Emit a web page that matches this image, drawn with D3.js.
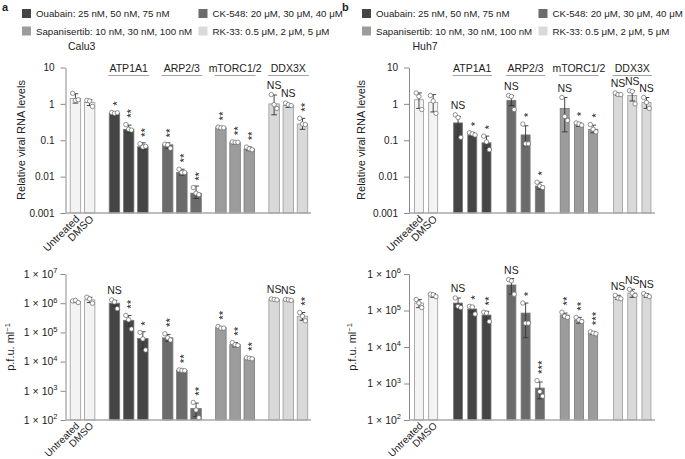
<!DOCTYPE html>
<html><head><meta charset="utf-8">
<script src="https://cdn.jsdelivr.net/npm/d3@7"></script>
<style>
body{margin:0;background:#fff}
svg text{font-family:"Liberation Sans",Arial,Helvetica,sans-serif;fill:#222}
</style>
</head><body>
<svg id="c" width="685" height="459"></svg>
<script>
// ---------------- DATA ----------------
const panelLetters = ["a", "b"];
const cellLines = ["Calu3", "Huh7"];
const legendLabels = ["Ouabain: 25 nM, 50 nM, 75 nM", "CK-548: 20 μM, 30 μM, 40 μM",
                      "Sapanisertib: 10 nM, 30 nM, 100 nM", "RK-33: 0.5 μM, 2 μM, 5 μM"];
const groups = ["ATP1A1", "ARP2/3", "mTORC1/2", "DDX3X"];
const controlLabels = ["Untreated", "DMSO"];
const rnaTitle = "Relative viral RNA levels";
const rnaTicks = [0.001, 0.01, 0.1, 1, 10];
const rnaTickLabels = ["0.001", "0.01", "0.1", "1", "10"];
const pfuTicksA = [1e2, 1e3, 1e4, 1e5, 1e6, 1e7];
const pfuExpA = ["2", "3", "4", "5", "6", "7"];
const pfuTicksB = [1e2, 1e3, 1e4, 1e5, 1e6];
const pfuExpB = ["2", "3", "4", "5", "6"];

// bars order: Untreated, DMSO, ATP1A1 x3, ARP2/3 x3, mTORC1/2 x3, DDX3X x3
// Calu3 relative viral RNA
const calu3RnaMean = [1.4, 1.1, 0.55, 0.2, 0.066, 0.075, 0.013, 0.0035, 0.22, 0.086, 0.058, 1.0, 0.9, 0.28];
const calu3RnaHi   = [1.9, 1.3, 0.6, 0.26, 0.085, 0.085, 0.016, 0.0055, 0.235, 0.092, 0.065, 1.75, 1.0, 0.4];
const calu3RnaLo   = [1.05, 0.9, 0.5, 0.16, 0.055, 0.06, 0.011, 0.0025, 0.205, 0.08, 0.052, 0.5, 0.8, 0.2];
const calu3RnaPts  = [[1.95,1.25,1.3],[1.25,1.2,0.85],[0.58,0.55,0.57],[0.27,0.2,0.19],[0.08,0.065,0.068],
                      [0.078,0.075,0.06],[0.016,0.013,0.013],[0.005,0.0035,0.0032],[0.23,0.22,0.22],
                      [0.09,0.088,0.088],[0.065,0.058,0.055],[1.8,0.95,0.75],[1.05,0.95,0.9],[0.4,0.28,0.27]];
const calu3RnaSig  = ["", "", "*", "**", "**", "**", "**", "**", "**", "**", "**", "NS", "NS", "**"];
// Calu3 p.f.u./ml
const calu3PfuMean = [1.15e6, 1.3e6, 1.0e6, 2.6e5, 6.2e4, 6.5e4, 5.0e3, 250, 1.45e5, 3.8e4, 1.3e4, 1.35e6, 1.3e6, 3.6e5];
const calu3PfuHi   = [1.25e6, 1.6e6, 1.25e6, 3.8e5, 1.05e5, 8.5e4, 5.2e3, 380, 1.55e5, 4.5e4, 1.4e4, 1.45e6, 1.4e6, 4.8e5];
const calu3PfuLo   = [1.05e6, 1.05e6, 8e5, 1.6e5, 2.8e4, 5e4, 4.8e3, 130, 1.35e5, 3.2e4, 1.2e4, 1.25e6, 1.2e6, 2.6e5];
const calu3PfuPts  = [[1.2e6,1.25e6,1.05e6],[1.6e6,1.4e6,1.0e6],[1.3e6,1.1e6,6.5e5],[3.8e5,2.7e5,1.3e5],
                      [1.0e5,6e4,2.5e4],[9e4,6.5e4,5.5e4],[5.2e3,5.0e3,4.9e3],[400,220,120],
                      [1.6e5,1.4e5,1.4e5],[4.5e4,3.8e4,3.6e4],[1.35e4,1.3e4,1.25e4],
                      [1.4e6,1.35e6,1.3e6],[1.35e6,1.3e6,1.25e6],[4.8e5,3.6e5,2.5e5]];
const calu3PfuSig  = ["", "", "NS", "**", "*", "**", "**", "**", "**", "**", "**", "NS", "NS", "**"];
// Huh7 relative viral RNA
const huh7RnaMean = [1.3, 1.1, 0.3, 0.14, 0.085, 1.25, 0.14, 0.0055, 0.75, 0.27, 0.2, 1.8, 1.7, 1.1];
const huh7RnaHi   = [2.0, 1.8, 0.45, 0.16, 0.13, 1.7, 0.25, 0.007, 1.5, 0.3, 0.26, 1.9, 2.3, 1.5];
const huh7RnaLo   = [0.75, 0.6, 0.12, 0.13, 0.06, 0.9, 0.07, 0.0045, 0.17, 0.24, 0.16, 1.7, 1.2, 0.75];
const huh7RnaPts  = [[2.0,1.6,0.7],[1.7,1.2,0.55],[0.5,0.42,0.12],[0.16,0.15,0.14],[0.13,0.09,0.055],
                     [1.7,1.6,0.7],[0.28,0.08,0.08],[0.007,0.0055,0.005],[1.5,0.45,0.35],
                     [0.3,0.28,0.26],[0.27,0.2,0.17],[2.0,1.8,1.8],[2.3,2.2,1.0],[1.5,1.1,0.75]];
const huh7RnaSig  = ["", "", "NS", "*", "*", "NS", "*", "*", "NS", "*", "*", "NS", "NS", "NS"];
// Huh7 p.f.u./ml
const huh7PfuMean = [1.6e5, 2.6e5, 1.6e5, 1.1e5, 7.5e4, 5.0e5, 8.5e4, 750, 7.5e4, 5.5e4, 2.4e4, 2.3e5, 3.0e5, 2.6e5];
const huh7PfuHi   = [2.0e5, 2.9e5, 2.2e5, 1.3e5, 9.5e4, 7.5e5, 1.6e5, 1.1e3, 8.5e4, 6.5e4, 2.6e4, 2.6e5, 3.8e5, 2.9e5];
const huh7PfuLo   = [1.2e5, 2.3e5, 1.1e5, 9e4, 5.5e4, 2.8e5, 1.8e4, 380, 6.5e4, 4.5e4, 2.2e4, 2.0e5, 2.3e5, 2.3e5];
const huh7PfuPts  = [[2.0e5,1.6e5,1.2e5],[2.8e5,2.7e5,2.4e5],[2.2e5,1.3e5,1.2e5],[1.3e5,1.25e5,8e4],
                     [9e4,8.5e4,5e4],[7e5,6.5e5,2.8e5],[1.6e5,4.5e4,4.5e4],[1.2e3,600,450],
                     [9e4,7e4,6.5e4],[6.5e4,5.5e4,5e4],[2.6e4,2.4e4,2.3e4],
                     [2.6e5,2.2e5,2.1e5],[3.8e5,3.0e5,2.6e5],[2.9e5,2.6e5,2.4e5]];
const huh7PfuSig  = ["", "", "NS", "*", "**", "NS", "*", "***", "**", "**", "***", "NS", "NS", "NS"];

// ---------------- STYLE / LAYOUT ----------------
const FONT = '"Liberation Sans", Arial, Helvetica, sans-serif';
const groupFill = {"ctrl": "#f3f3f3", "ATP1A1": "#454545", "ARP2/3": "#6b6b6b", "mTORC1/2": "#9c9c9c", "DDX3X": "#d9d9d9"};
const legendFill = ["#454545", "#6b6b6b", "#9c9c9c", "#d9d9d9"];
const barGroup = ["ctrl", "ctrl"].concat(groups.flatMap(g => [g, g, g]));
const slot = barGroup.map((g, i) => i < 2 ? i : i + 0.75 * (groups.indexOf(g) + 1));

const svg = d3.select("#c");

function drawLegend(ox, letter) {
  const g = svg.append("g");
  g.append("text").attr("x", ox + 2).attr("y", 11).attr("font-size", 11).attr("font-weight", "bold").text(letter);
  const cols = [ox + 22, ox + 198.5];
  const rows = [13.5, 31];
  legendLabels.forEach((lab, i) => {
    const cx = cols[i % 2], cy = rows[Math.floor(i / 2)];
    g.append("rect").attr("x", cx).attr("y", cy - 4.5).attr("width", 9).attr("height", 9).attr("fill", legendFill[i]);
    g.append("text").attr("x", cx + 14).attr("y", cy + 3.5).attr("font-size", 9.7).attr("fill", "#333").text(lab);
  });
}

function drawPanel(p) {
  const g = svg.append("g");
  const x = d3.scaleLinear().domain([-0.7, 16.6]).range([p.x0, p.x1]);
  const y = d3.scaleLog().domain(p.domain).range([p.yBase, p.yTop]);

  const ax = d3.axisLeft(y).tickValues(p.ticks).tickSize(5).tickSizeOuter(0)
    .tickPadding(p.tickExp ? 3 : 6).tickFormat(() => "");
  const axg = g.append("g").attr("transform", `translate(${p.x0},0)`).call(ax)
    .attr("font-family", FONT).attr("font-size", p.tickExp ? 10.5 : 10);
  axg.select(".domain").attr("stroke", "#8a8a8a");
  axg.selectAll(".tick line").attr("stroke", "#8a8a8a");
  axg.selectAll(".tick text").attr("fill", "#333").each(function (d, i) {
    const t = d3.select(this);
    if (p.tickExp) {
      t.text("1 × 10");
      t.append("tspan").attr("dy", -4.5).attr("font-size", 7.5).text(p.tickExp[i]);
    } else {
      t.text(p.tickLabels[i]);
    }
  });

  // y title
  const tt = g.append("text").attr("transform", `translate(${p.titleX},${p.titleY}) rotate(-90)`)
    .attr("text-anchor", "middle").attr("font-size", 11).attr("fill", "#333");
  if (p.pfu) {
    tt.text("p.f.u. ml");
    tt.append("tspan").attr("dy", -4).attr("font-size", 7.5).text("−1");
  } else tt.text(rnaTitle);

  // bars
  const bw = p.bw;
  g.selectAll("rect.bar").data(p.mean).join("rect").attr("class", "bar")
    .attr("x", (d, i) => x(slot[i]) - bw / 2).attr("width", bw)
    .attr("y", d => y(d)).attr("height", d => p.yBase - y(d))
    .attr("fill", (d, i) => groupFill[barGroup[i]])
    .attr("stroke", (d, i) => barGroup[i] === "ctrl" || barGroup[i] === "DDX3X" ? "#9a9a9a" : "#7a7a7a")
    .attr("stroke-width", 0.8);

  // baseline
  g.append("line").attr("x1", p.x0).attr("x2", p.x1).attr("y1", p.yBase).attr("y2", p.yBase)
    .attr("stroke", "#a8a8a8").attr("stroke-width", 1.6);

  // error bars
  p.mean.forEach((m, i) => {
    const cx = x(slot[i]);
    g.append("line").attr("x1", cx).attr("x2", cx).attr("y1", y(p.lo[i])).attr("y2", y(p.hi[i]))
      .attr("stroke", "#333").attr("stroke-width", 0.9);
    [p.lo[i], p.hi[i]].forEach(v => {
      g.append("line").attr("x1", cx - 2.8).attr("x2", cx + 2.8).attr("y1", y(v)).attr("y2", y(v))
        .attr("stroke", "#333").attr("stroke-width", 0.9);
    });
  });

  // points
  p.pts.forEach((arr, i) => {
    const cx = x(slot[i]);
    arr.forEach((v, k) => {
      g.append("circle").attr("cx", cx + (k - 1) * 2.8).attr("cy", y(v)).attr("r", 2.2)
        .attr("fill", "#fff").attr("stroke", "#666").attr("stroke-width", 0.7);
    });
  });

  // significance
  p.sig.forEach((s, i) => {
    if (!s) return;
    const cx = x(slot[i]);
    const topY = Math.min(y(p.hi[i]), y(d3.max(p.pts[i])) - 2.2) - 2;
    if (s === "NS") {
      g.append("text").attr("x", cx).attr("y", topY - 1.5).attr("text-anchor", "middle")
        .attr("font-size", 10.5).attr("fill", "#222").text(s);
    } else {
      g.append("text").attr("transform", `translate(${cx},${topY - 2.5}) rotate(-90)`)
        .attr("text-anchor", "start").attr("dy", "0.57em").attr("font-size", 11.5).attr("fill", "#222").text(s);
    }
  });

  // group labels
  if (p.groupLabels) {
    groups.forEach((gname) => {
      const idx = barGroup.map((b, i) => b === gname ? i : -1).filter(i => i >= 0);
      const l = x(slot[idx[0]]) - bw / 2, r = x(slot[idx[idx.length - 1]]) + bw / 2;
      g.append("text").attr("x", (l + r) / 2).attr("y", 72).attr("text-anchor", "middle")
        .attr("font-size", 10.5).attr("fill", "#222").text(gname);
      g.append("line").attr("x1", l - 1).attr("x2", r + 1).attr("y1", 75.5).attr("y2", 75.5)
        .attr("stroke", "#9a9a9a").attr("stroke-width", 0.9);
    });
  }

  // control labels
  controlLabels.forEach((lab, i) => {
    const cx = x(slot[i]);
    g.append("text").attr("transform", `translate(${cx + 2},${p.yBase + 4}) rotate(-45)`)
      .attr("text-anchor", "end").attr("dy", "0.35em").attr("font-size", p.pfu ? 10 : 10.5)
      .attr("fill", "#333").text(lab);
  });
}

// ---------------- DRAW ----------------
drawLegend(0, panelLetters[0]);
drawLegend(340, panelLetters[1]);
svg.append("text").attr("x", 68).attr("y", 50).attr("font-size", 10.5).attr("fill", "#333").text(cellLines[0]);
svg.append("text").attr("x", 412.5).attr("y", 50).attr("font-size", 10.5).attr("fill", "#333").text(cellLines[1]);

drawPanel({x0: 65.5, x1: 311, yBase: 213, yTop: 67.5, domain: [0.001, 10], ticks: rnaTicks, tickLabels: rnaTickLabels,
  titleX: 25, titleY: 140, bw: 10.5, mean: calu3RnaMean, hi: calu3RnaHi, lo: calu3RnaLo, pts: calu3RnaPts, sig: calu3RnaSig, groupLabels: true});
drawPanel({x0: 65.5, x1: 311, yBase: 420, yTop: 274, domain: [1e2, 1e7], ticks: pfuTicksA, tickExp: pfuExpA, pfu: true,
  titleX: 14, titleY: 347, bw: 10.5, mean: calu3PfuMean, hi: calu3PfuHi, lo: calu3PfuLo, pts: calu3PfuPts, sig: calu3PfuSig});
drawPanel({x0: 409, x1: 655, yBase: 213, yTop: 67.5, domain: [0.001, 10], ticks: rnaTicks, tickLabels: rnaTickLabels,
  titleX: 365, titleY: 140, bw: 9, mean: huh7RnaMean, hi: huh7RnaHi, lo: huh7RnaLo, pts: huh7RnaPts, sig: huh7RnaSig, groupLabels: true});
drawPanel({x0: 409, x1: 655, yBase: 420, yTop: 274, domain: [1e2, 1e6], ticks: pfuTicksB, tickExp: pfuExpB, pfu: true,
  titleX: 356, titleY: 347, bw: 9, mean: huh7PfuMean, hi: huh7PfuHi, lo: huh7PfuLo, pts: huh7PfuPts, sig: huh7PfuSig});
</script>
</body></html>
